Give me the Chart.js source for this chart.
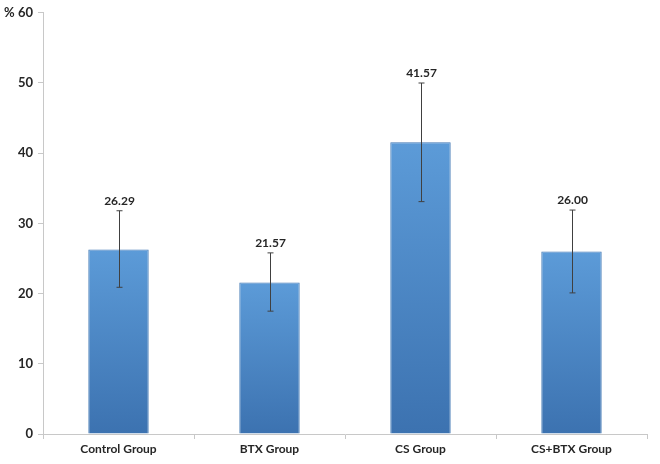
<!DOCTYPE html>
<html>
<head>
<meta charset="utf-8">
<script src="https://cdn.jsdelivr.net/npm/chart.js@4/dist/chart.umd.min.js"></script>
<style>
  html, body { margin: 0; padding: 0; background: #fff; }
  #wrap { width: 660px; height: 464px; }
</style>
</head>
<body>
<div id="wrap"><canvas id="myChart"></canvas></div>
<script>
// values
const groups = ["Control Group", "BTX Group", "CS Group", "CS+BTX Group"];
const means = [26.29, 21.57, 41.57, 26.00];
const errHigh = [31.8, 25.8, 50.0, 31.9];
const errLow = [20.9, 17.5, 33.1, 20.1];
const yTicks = [0, 10, 20, 30, 40, 50, 60];

const FONT = "Lato, 'Liberation Sans', sans-serif";

// whiskers + value labels
const errorBars = {
  id: "errorBars",
  afterDatasetsDraw(chart) {
    const ctx = chart.ctx;
    const x = chart.scales.x, y = chart.scales.y;
    ctx.save();
    ctx.strokeStyle = "#404040";
    ctx.lineWidth = 1;
    groups.forEach((g, i) => {
      const px = Math.round(x.getPixelForValue(i)) + 0.5;
      const top = y.getPixelForValue(errHigh[i]);
      const bot = y.getPixelForValue(errLow[i]);
      ctx.beginPath();
      ctx.moveTo(px, top); ctx.lineTo(px, bot);
      ctx.moveTo(px - 3, top); ctx.lineTo(px + 3, top);
      ctx.moveTo(px - 3, bot); ctx.lineTo(px + 3, bot);
      ctx.stroke();
      ctx.fillStyle = "#262626";
      ctx.font = "bold 12px " + FONT;
      ctx.textAlign = "center";
      ctx.textBaseline = "bottom";
      ctx.fillText(means[i].toFixed(2), px, top - 4);
    });
    ctx.restore();
  }
};

new Chart(document.getElementById("myChart").getContext("2d"), {
  type: "bar",
  data: {
    labels: groups,
    datasets: [{
      data: means,
      backgroundColor(c) {
        const chart = c.chart;
        if (!chart.chartArea) return "#4a87c8";
        const y = chart.scales.y;
        const v = c.parsed ? c.parsed.y : 0;
        const g = chart.ctx.createLinearGradient(0, y.getPixelForValue(v), 0, y.getPixelForValue(0));
        g.addColorStop(0, "#5c9bd8");
        g.addColorStop(1, "#3c72b0");
        return g;
      },
      borderColor: "#3e75b3",
      borderWidth: 1,
      barPercentage: 0.40,
      categoryPercentage: 1.0
    }]
  },
  options: {
    responsive: true,
    maintainAspectRatio: false,
    animation: false,
    layout: { padding: { top: 11, right: 13, left: 0, bottom: 0 } },
    plugins: { legend: { display: false }, tooltip: { enabled: false } },
    scales: {
      x: {
        grid: { offset: true, drawOnChartArea: false, tickLength: 5, color: "#c8c8c8" },
        border: { color: "#c8c8c8" },
        ticks: { color: "#262626", font: { family: FONT, size: 12, weight: "bold" }, padding: 3 },
        afterFit(s) { s.height = 30; }
      },
      y: {
        min: 0, max: 60,
        afterBuildTicks(s) { s.ticks = yTicks.map(v => ({ value: v })); },
        grid: { drawOnChartArea: false, tickLength: 5, color: "#c8c8c8" },
        border: { color: "#c8c8c8" },
        ticks: {
          color: "#262626",
          font: { family: FONT, size: 13, weight: "bold" },
          padding: 5,
          callback: v => v === 60 ? "% 60" : String(v)
        },
        afterFit(s) { s.width = 43; }
      }
    }
  },
  plugins: [errorBars]
});
</script>
</body>
</html>
